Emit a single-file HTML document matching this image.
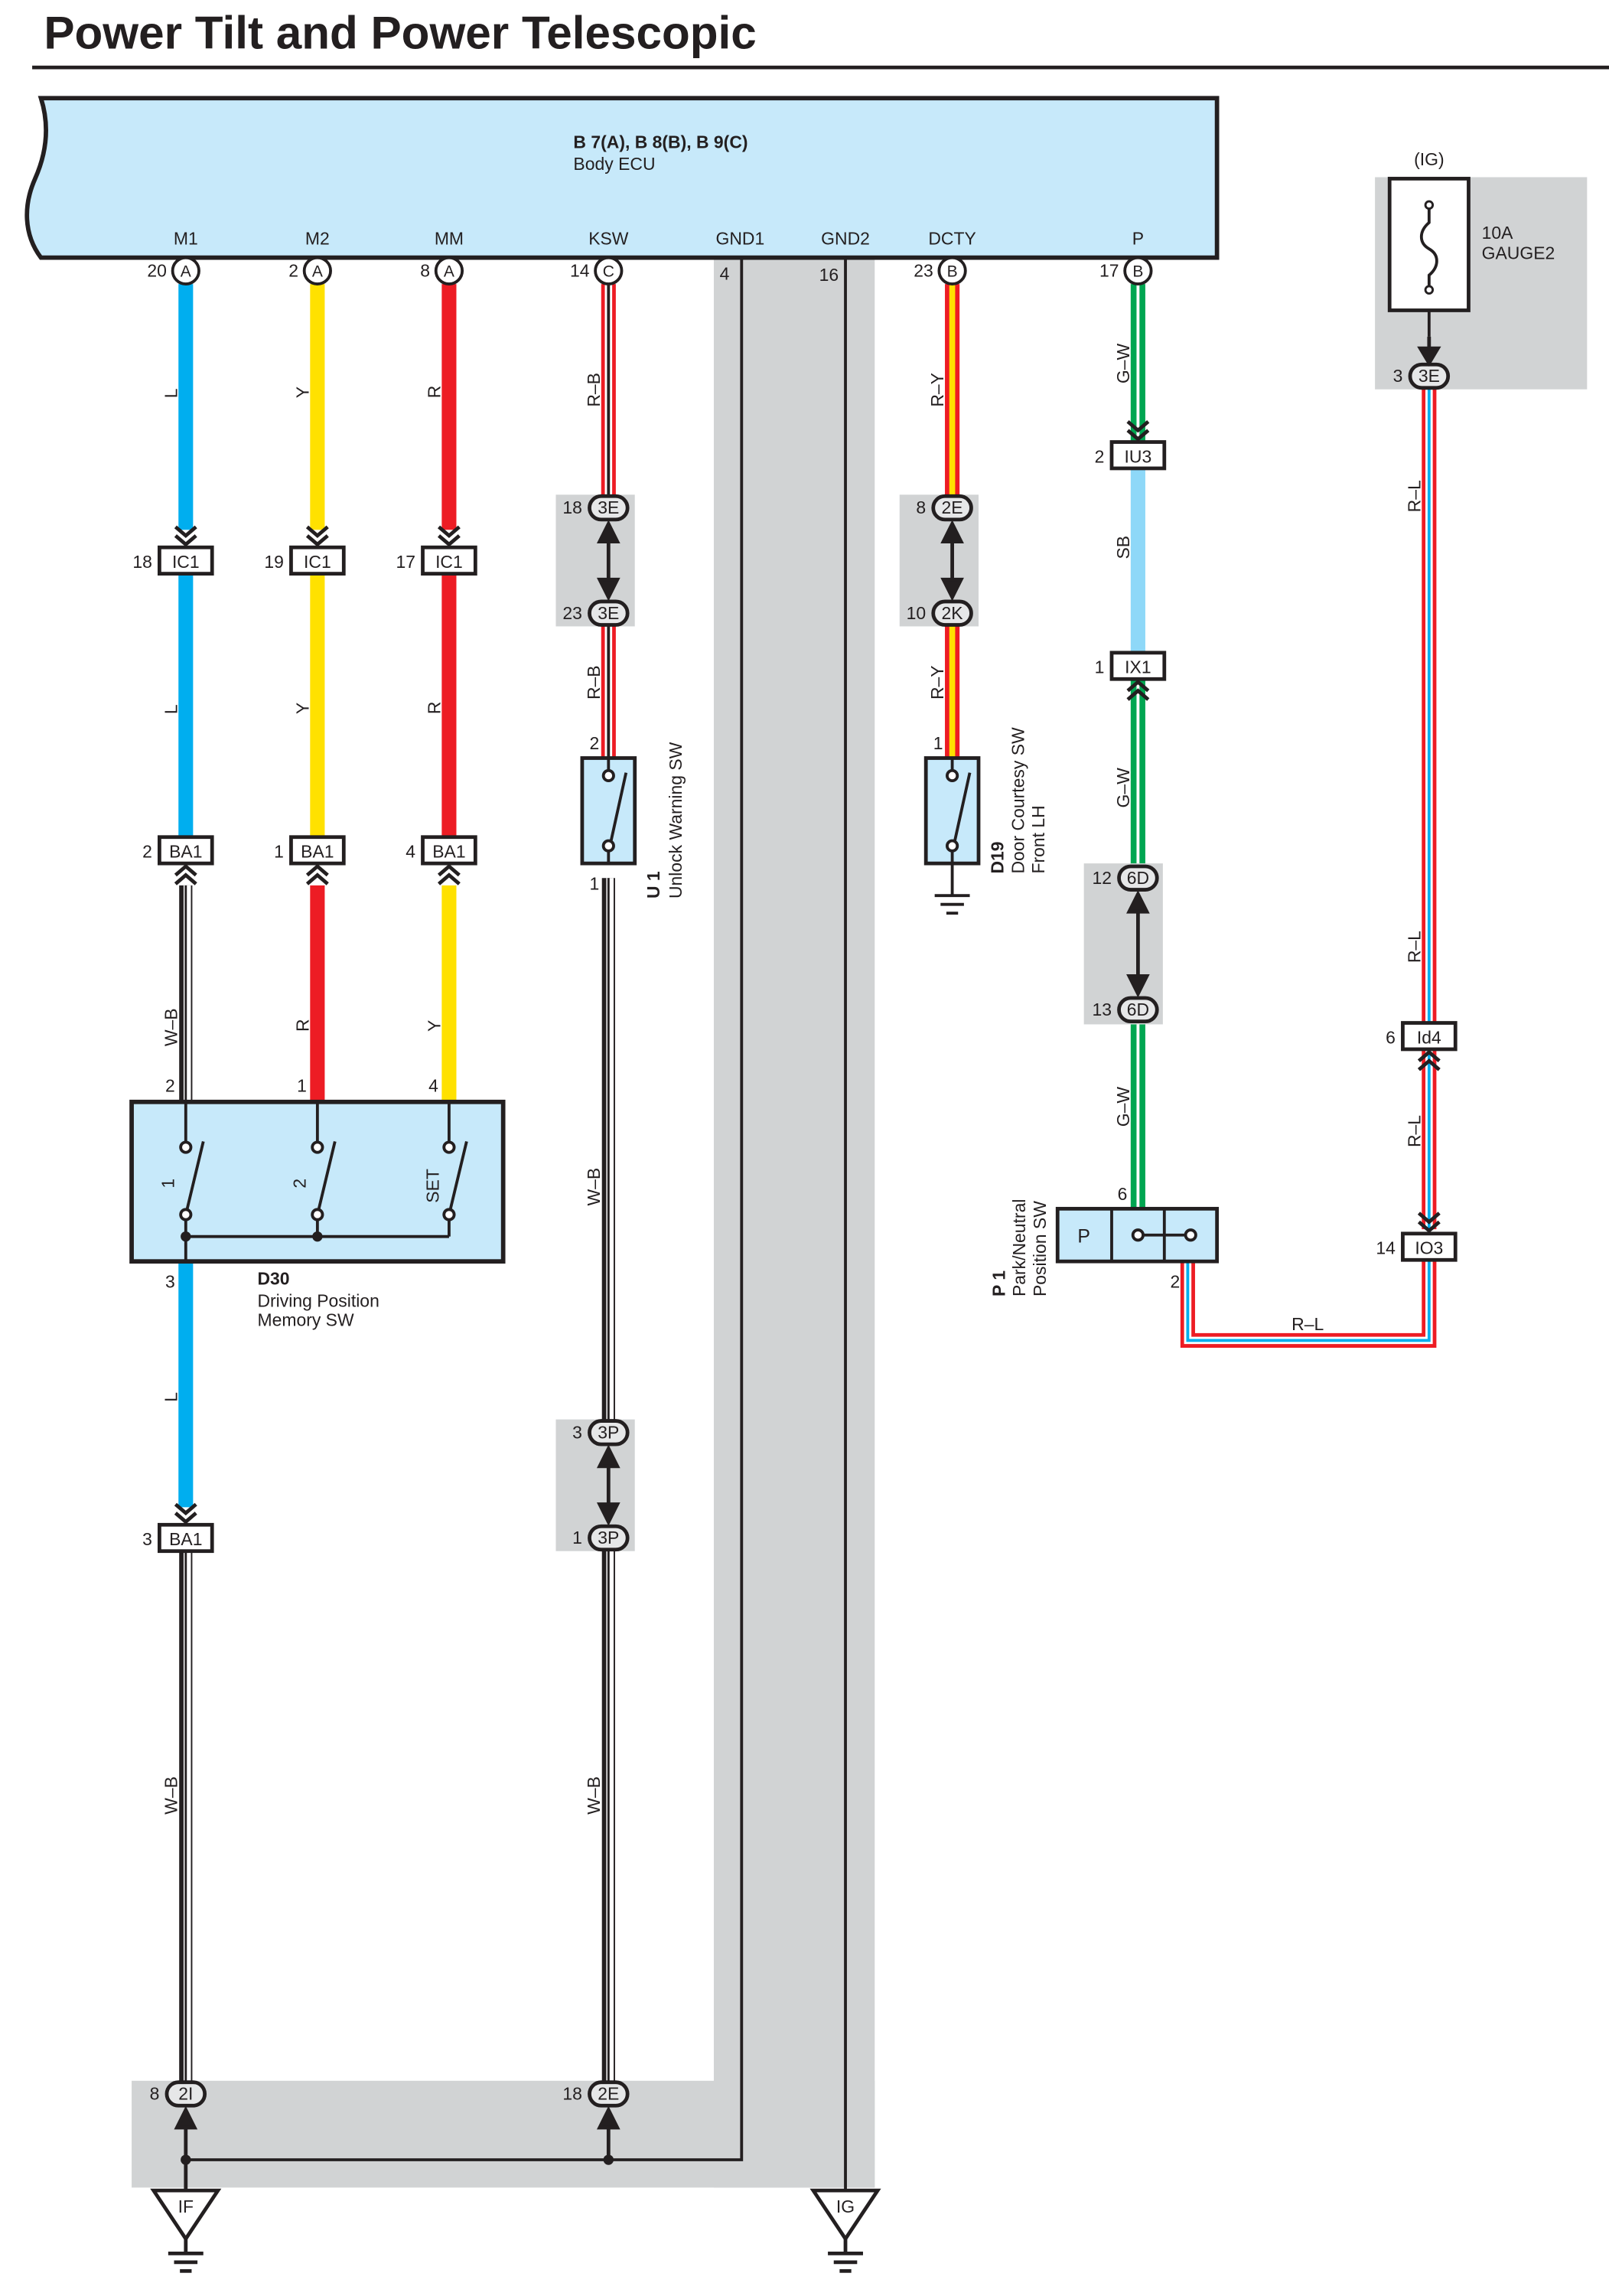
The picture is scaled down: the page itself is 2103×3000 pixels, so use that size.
<!DOCTYPE html>
<html><head><meta charset="utf-8"><style>
html,body{margin:0;padding:0;background:#fff}
svg{display:block}
text{font-family:"Liberation Sans",sans-serif;fill:#231f20}
</style></head><body>
<svg width="2103" height="3000" viewBox="0 0 1100 1569" xmlns="http://www.w3.org/2000/svg">
<defs>
<g id="chevD"><polyline points="-7,-12 0,-6 7,-12" fill="none" stroke="#231f20" stroke-width="2.5"/><polyline points="-7,-6 0,0 7,-6" fill="none" stroke="#231f20" stroke-width="2.5"/></g>
<g id="chevU"><polyline points="-7,12 0,6 7,12" fill="none" stroke="#231f20" stroke-width="2.5"/><polyline points="-7,6 0,0 7,6" fill="none" stroke="#231f20" stroke-width="2.5"/></g>
</defs>
<rect width="1100" height="1569" fill="#fff"/>
<text x="30" y="33" font-size="31.5" font-weight="bold">Power Tilt and Power Telescopic</text>
<line x1="22" y1="46" x2="1100" y2="46" stroke="#231f20" stroke-width="2.5"/>

<rect x="488" y="176" width="110" height="1319" fill="#d1d3d4"/>
<rect x="90" y="1422" width="508" height="73" fill="#d1d3d4"/>
<rect x="380" y="338" width="54" height="90" fill="#d1d3d4"/>
<rect x="615" y="338" width="54" height="90" fill="#d1d3d4"/>
<rect x="741" y="590" width="54" height="110" fill="#d1d3d4"/>
<rect x="380" y="970" width="54" height="90" fill="#d1d3d4"/>
<rect x="940" y="121" width="145" height="145" fill="#d1d3d4"/>

<path d="M28,67 L832,67 L832,176 L28,176 C16,160 16,140 24,122 C32,104 34,86 28,67 Z" fill="#c7e9fa" stroke="#231f20" stroke-width="3"/>
<text x="392" y="101" font-size="12" font-weight="bold">B 7(A), B 8(B), B 9(C)</text>
<text x="392" y="116" font-size="12">Body ECU</text>
<g font-size="12" text-anchor="middle">
<text x="127" y="167">M1</text><text x="217" y="167">M2</text><text x="307" y="167">MM</text>
<text x="416" y="167">KSW</text><text x="506" y="167">GND1</text><text x="578" y="167">GND2</text>
<text x="651" y="167">DCTY</text><text x="778" y="167">P</text>
</g>

<polyline points="507,176 507,1476 127,1476" fill="none" stroke="#231f20" stroke-width="2"/>
<line x1="578" y1="176" x2="578" y2="1497" stroke="#231f20" stroke-width="2"/>
<text x="492" y="191" font-size="12">4</text><text x="560" y="192" font-size="12">16</text>

<g stroke-width="10">
<line x1="127" y1="194" x2="127" y2="362" stroke="#00aeef"/>
<line x1="127" y1="392" x2="127" y2="572" stroke="#00aeef"/>
<line x1="217" y1="194" x2="217" y2="362" stroke="#ffe100"/>
<line x1="217" y1="392" x2="217" y2="572" stroke="#ffe100"/>
<line x1="217" y1="605" x2="217" y2="752" stroke="#ed1c24"/>
<line x1="307" y1="194" x2="307" y2="362" stroke="#ed1c24"/>
<line x1="307" y1="392" x2="307" y2="572" stroke="#ed1c24"/>
<line x1="307" y1="605" x2="307" y2="752" stroke="#ffe100"/>
<line x1="127" y1="862" x2="127" y2="1030" stroke="#00aeef"/>
<line x1="778" y1="320" x2="778" y2="446" stroke="#8ed8f8"/>
</g>
<g>
<line x1="127" y1="605" x2="127" y2="752" stroke="#231f20" stroke-width="9"/><line x1="128" y1="605" x2="128" y2="752" stroke="#fff" stroke-width="5"/><line x1="127" y1="605" x2="127" y2="752" stroke="#231f20" stroke-width="1.5"/>
<line x1="127" y1="1060" x2="127" y2="1422" stroke="#231f20" stroke-width="9"/><line x1="128" y1="1060" x2="128" y2="1422" stroke="#fff" stroke-width="5"/><line x1="127" y1="1060" x2="127" y2="1422" stroke="#231f20" stroke-width="1.5"/>
<line x1="416" y1="600" x2="416" y2="970" stroke="#231f20" stroke-width="9"/><line x1="417" y1="600" x2="417" y2="970" stroke="#fff" stroke-width="5"/><line x1="416" y1="600" x2="416" y2="970" stroke="#231f20" stroke-width="1.5"/>
<line x1="416" y1="1060" x2="416" y2="1422" stroke="#231f20" stroke-width="9"/><line x1="417" y1="1060" x2="417" y2="1422" stroke="#fff" stroke-width="5"/><line x1="416" y1="1060" x2="416" y2="1422" stroke="#231f20" stroke-width="1.5"/>
</g>
<g>
<line x1="416" y1="194" x2="416" y2="338" stroke="#ed1c24" stroke-width="10"/><line x1="416" y1="194" x2="416" y2="338" stroke="#fff" stroke-width="5"/><line x1="416" y1="194" x2="416" y2="338" stroke="#231f20" stroke-width="2"/>
<line x1="416" y1="428" x2="416" y2="518" stroke="#ed1c24" stroke-width="10"/><line x1="416" y1="428" x2="416" y2="518" stroke="#fff" stroke-width="5"/><line x1="416" y1="428" x2="416" y2="518" stroke="#231f20" stroke-width="2"/>
<line x1="651" y1="194" x2="651" y2="338" stroke="#ed1c24" stroke-width="10"/><line x1="651" y1="194" x2="651" y2="338" stroke="#ffe100" stroke-width="4"/>
<line x1="651" y1="428" x2="651" y2="518" stroke="#ed1c24" stroke-width="10"/><line x1="651" y1="428" x2="651" y2="518" stroke="#ffe100" stroke-width="4"/>
<line x1="778" y1="194" x2="778" y2="302" stroke="#00a651" stroke-width="10"/><line x1="778" y1="194" x2="778" y2="302" stroke="#fff" stroke-width="2"/>
<line x1="778" y1="465" x2="778" y2="590" stroke="#00a651" stroke-width="10"/><line x1="778" y1="465" x2="778" y2="590" stroke="#fff" stroke-width="2"/>
<line x1="778" y1="700" x2="778" y2="826" stroke="#00a651" stroke-width="10"/><line x1="778" y1="700" x2="778" y2="826" stroke="#fff" stroke-width="2"/>
<polyline points="977,266 977,698" fill="none" stroke="#ed1c24" stroke-width="10"/><polyline points="977,266 977,698" fill="none" stroke="#fff" stroke-width="5"/><polyline points="977,266 977,698" fill="none" stroke="#00aeef" stroke-width="2"/>
<polyline points="977,718 977,840" fill="none" stroke="#ed1c24" stroke-width="10"/><polyline points="977,718 977,840" fill="none" stroke="#fff" stroke-width="5"/><polyline points="977,718 977,840" fill="none" stroke="#00aeef" stroke-width="2"/>
<polyline points="977,862 977,916 812,916 812,862" fill="none" stroke="#ed1c24" stroke-width="10"/><polyline points="977,862 977,916 812,916 812,862" fill="none" stroke="#fff" stroke-width="5"/><polyline points="977,862 977,916 812,916 812,862" fill="none" stroke="#00aeef" stroke-width="2"/>
</g>

<g font-size="12">
<text transform="translate(121,272) rotate(-90)">L</text>
<text transform="translate(211,272) rotate(-90)">Y</text>
<text transform="translate(301,272) rotate(-90)">R</text>
<text transform="translate(410,278) rotate(-90)">R–B</text>
<text transform="translate(645,278) rotate(-90)">R–Y</text>
<text transform="translate(772,262) rotate(-90)">G–W</text>
<text transform="translate(121,488) rotate(-90)">L</text>
<text transform="translate(211,488) rotate(-90)">Y</text>
<text transform="translate(301,488) rotate(-90)">R</text>
<text transform="translate(410,478) rotate(-90)">R–B</text>
<text transform="translate(645,478) rotate(-90)">R–Y</text>
<text transform="translate(772,382) rotate(-90)">SB</text>
<text transform="translate(772,552) rotate(-90)">G–W</text>
<text transform="translate(772,770) rotate(-90)">G–W</text>
<text transform="translate(121,715) rotate(-90)">W–B</text>
<text transform="translate(211,705) rotate(-90)">R</text>
<text transform="translate(301,705) rotate(-90)">Y</text>
<text transform="translate(410,824) rotate(-90)">W–B</text>
<text transform="translate(121,958) rotate(-90)">L</text>
<text transform="translate(121,1240) rotate(-90)">W–B</text>
<text transform="translate(410,1240) rotate(-90)">W–B</text>
<text transform="translate(971,350) rotate(-90)">R–L</text>
<text transform="translate(971,658) rotate(-90)">R–L</text>
<text transform="translate(971,784) rotate(-90)">R–L</text>
<text x="883" y="909">R–L</text>
</g>

<g font-size="11" text-anchor="middle">
<circle cx="127" cy="185" r="9" fill="#fff" stroke="#231f20" stroke-width="2"/><text x="127" y="189">A</text>
<circle cx="217" cy="185" r="9" fill="#fff" stroke="#231f20" stroke-width="2"/><text x="217" y="189">A</text>
<circle cx="307" cy="185" r="9" fill="#fff" stroke="#231f20" stroke-width="2"/><text x="307" y="189">A</text>
<circle cx="416" cy="185" r="9" fill="#fff" stroke="#231f20" stroke-width="2"/><text x="416" y="189">C</text>
<circle cx="651" cy="185" r="9" fill="#fff" stroke="#231f20" stroke-width="2"/><text x="651" y="189">B</text>
<circle cx="778" cy="185" r="9" fill="#fff" stroke="#231f20" stroke-width="2"/><text x="778" y="189">B</text>
</g>
<g font-size="12" text-anchor="end">
<text x="114" y="189">20</text><text x="204" y="189">2</text><text x="294" y="189">8</text>
<text x="403" y="189">14</text><text x="638" y="189">23</text><text x="765" y="189">17</text>
</g>

<g fill="#fff" stroke="#231f20" stroke-width="2.5">
<rect x="109" y="374" width="36" height="18"/><rect x="199" y="374" width="36" height="18"/><rect x="289" y="374" width="36" height="18"/>
<rect x="109" y="572" width="36" height="18"/><rect x="199" y="572" width="36" height="18"/><rect x="289" y="572" width="36" height="18"/>
<rect x="109" y="1042" width="36" height="18"/>
<rect x="760" y="302" width="36" height="18"/><rect x="760" y="446" width="36" height="18"/>
<rect x="959" y="699" width="36" height="18"/><rect x="959" y="843" width="36" height="18"/>
</g>
<g font-size="12" text-anchor="middle">
<text x="127" y="388">IC1</text><text x="217" y="388">IC1</text><text x="307" y="388">IC1</text>
<text x="127" y="586">BA1</text><text x="217" y="586">BA1</text><text x="307" y="586">BA1</text>
<text x="127" y="1056">BA1</text>
<text x="778" y="316">IU3</text><text x="778" y="460">IX1</text>
<text x="977" y="713">Id4</text><text x="977" y="857">IO3</text>
</g>
<g font-size="12" text-anchor="end">
<text x="104" y="388">18</text><text x="194" y="388">19</text><text x="284" y="388">17</text>
<text x="104" y="586">2</text><text x="194" y="586">1</text><text x="284" y="586">4</text>
<text x="104" y="1056">3</text>
<text x="755" y="316">2</text><text x="755" y="460">1</text>
<text x="954" y="713">6</text><text x="954" y="857">14</text>
</g>
<use href="#chevD" x="127" y="372"/><use href="#chevD" x="217" y="372"/><use href="#chevD" x="307" y="372"/>
<use href="#chevU" x="127" y="592"/><use href="#chevU" x="217" y="592"/><use href="#chevU" x="307" y="592"/>
<use href="#chevD" x="127" y="1040"/>
<use href="#chevD" x="778" y="300"/><use href="#chevU" x="778" y="466"/>
<use href="#chevU" x="977" y="719"/><use href="#chevD" x="977" y="841"/>

<g fill="#e6e7e8" stroke="#231f20" stroke-width="2.5">
<rect x="403" y="339" width="26" height="16" rx="8"/><rect x="403" y="411" width="26" height="16" rx="8"/>
<rect x="638" y="339" width="26" height="16" rx="8"/><rect x="638" y="411" width="26" height="16" rx="8"/>
<rect x="765" y="592" width="26" height="16" rx="8"/><rect x="765" y="682" width="26" height="16" rx="8"/>
<rect x="403" y="971" width="26" height="16" rx="8"/><rect x="403" y="1043" width="26" height="16" rx="8"/>
<rect x="114" y="1423" width="26" height="16" rx="8"/><rect x="403" y="1423" width="26" height="16" rx="8"/>
<rect x="964" y="249" width="26" height="16" rx="8"/>
</g>
<g font-size="12" text-anchor="middle">
<text x="416" y="351">3E</text><text x="416" y="423">3E</text>
<text x="651" y="351">2E</text><text x="651" y="423">2K</text>
<text x="778" y="604">6D</text><text x="778" y="694">6D</text>
<text x="416" y="983">3P</text><text x="416" y="1055">3P</text>
<text x="127" y="1435">2I</text><text x="416" y="1435">2E</text>
<text x="977" y="261">3E</text>
</g>
<g font-size="12" text-anchor="end">
<text x="398" y="351">18</text><text x="398" y="423">23</text>
<text x="633" y="351">8</text><text x="633" y="423">10</text>
<text x="760" y="604">12</text><text x="760" y="694">13</text>
<text x="398" y="983">3</text><text x="398" y="1055">1</text>
<text x="109" y="1435">8</text><text x="398" y="1435">18</text>
<text x="959" y="261">3</text>
</g>
<g stroke="#231f20" stroke-width="2.5" fill="#231f20">
<line x1="416" y1="358" x2="416" y2="408"/><polygon points="410,370 416,358 422,370"/><polygon points="410,396 416,408 422,396"/>
<line x1="651" y1="358" x2="651" y2="408"/><polygon points="645,370 651,358 657,370"/><polygon points="645,396 651,408 657,396"/>
<line x1="778" y1="611" x2="778" y2="679"/><polygon points="772,623 778,611 784,623"/><polygon points="772,667 778,679 784,667"/>
<line x1="416" y1="990" x2="416" y2="1040"/><polygon points="410,1002 416,990 422,1002"/><polygon points="410,1028 416,1040 422,1028"/>
<line x1="127" y1="1442" x2="127" y2="1476"/><polygon points="121,1454 127,1442 133,1454"/>
<line x1="416" y1="1442" x2="416" y2="1476"/><polygon points="410,1454 416,1442 422,1454"/>
<line x1="977" y1="230" x2="977" y2="248"/><polygon points="971,238 977,248 983,238"/>
<line x1="127" y1="1476" x2="127" y2="1497"/>
</g>
<circle cx="127" cy="1476" r="3.5" fill="#231f20"/><circle cx="416" cy="1476" r="3.5" fill="#231f20"/>

<g stroke="#231f20" stroke-width="2.5" fill="#fff">
<polygon points="105,1497 149,1497 127,1530"/>
<polygon points="556,1497 600,1497 578,1530"/>
<line x1="127" y1="1530" x2="127" y2="1540"/><line x1="578" y1="1530" x2="578" y2="1540"/>
<line x1="115" y1="1540" x2="139" y2="1540"/><line x1="119" y1="1546" x2="135" y2="1546"/><line x1="123" y1="1552" x2="131" y2="1552"/>
<line x1="566" y1="1540" x2="590" y2="1540"/><line x1="570" y1="1546" x2="586" y2="1546"/><line x1="574" y1="1552" x2="582" y2="1552"/>
</g>
<text x="127" y="1512" font-size="12" text-anchor="middle">IF</text>
<text x="578" y="1512" font-size="12" text-anchor="middle">IG</text>

<rect x="90" y="753" width="254" height="109" fill="#c7e9fa" stroke="#231f20" stroke-width="3"/>
<g stroke="#231f20" stroke-width="2" fill="#fff">
<line x1="127" y1="753" x2="127" y2="780"/><line x1="217" y1="753" x2="217" y2="780"/><line x1="307" y1="753" x2="307" y2="780"/>
<line x1="127" y1="833" x2="127" y2="862"/><line x1="217" y1="833" x2="217" y2="845"/><line x1="307" y1="833" x2="307" y2="845"/>
<line x1="127" y1="845" x2="307" y2="845"/>
<line x1="128" y1="826" x2="139" y2="780"/><line x1="218" y1="826" x2="229" y2="780"/><line x1="308" y1="826" x2="319" y2="780"/>
<circle cx="127" cy="784" r="3.5"/><circle cx="217" cy="784" r="3.5"/><circle cx="307" cy="784" r="3.5"/>
<circle cx="127" cy="830" r="3.5"/><circle cx="217" cy="830" r="3.5"/><circle cx="307" cy="830" r="3.5"/>
</g>
<circle cx="127" cy="845" r="3.5" fill="#231f20"/><circle cx="217" cy="845" r="3.5" fill="#231f20"/>
<g font-size="12">
<text transform="translate(119,812) rotate(-90)">1</text>
<text transform="translate(209,812) rotate(-90)">2</text>
<text transform="translate(300,822) rotate(-90)">SET</text>
<text x="113" y="746">2</text><text x="203" y="746">1</text><text x="293" y="746">4</text>
<text x="113" y="880">3</text>
<text x="176" y="878" font-weight="bold">D30</text>
<text x="176" y="893">Driving Position</text>
<text x="176" y="906">Memory SW</text>
</g>

<rect x="398" y="518" width="36" height="72" fill="#c7e9fa" stroke="#231f20" stroke-width="2.5"/>
<g stroke="#231f20" stroke-width="2" fill="#fff">
<line x1="416" y1="518" x2="416" y2="526"/><line x1="416" y1="582" x2="416" y2="590"/>
<line x1="417" y1="578" x2="428" y2="528"/>
<circle cx="416" cy="530" r="3.5"/><circle cx="416" cy="578" r="3.5"/>
</g>
<text x="403" y="512" font-size="12">2</text><text x="403" y="608" font-size="12">1</text>
<text transform="translate(451,614) rotate(-90)" font-size="12" font-weight="bold">U 1</text>
<text transform="translate(466,614) rotate(-90)" font-size="12">Unlock Warning SW</text>

<rect x="633" y="518" width="36" height="72" fill="#c7e9fa" stroke="#231f20" stroke-width="2.5"/>
<g stroke="#231f20" stroke-width="2" fill="#fff">
<line x1="651" y1="518" x2="651" y2="526"/><line x1="651" y1="582" x2="651" y2="612"/>
<line x1="652" y1="578" x2="663" y2="528"/>
<circle cx="651" cy="530" r="3.5"/><circle cx="651" cy="578" r="3.5"/>
<line x1="639" y1="612" x2="663" y2="612"/><line x1="643" y1="618" x2="659" y2="618"/><line x1="647" y1="624" x2="655" y2="624"/>
</g>
<text x="638" y="512" font-size="12">1</text>
<text transform="translate(686,597) rotate(-90)" font-size="12" font-weight="bold">D19</text>
<text transform="translate(700,597) rotate(-90)" font-size="12">Door Courtesy SW</text>
<text transform="translate(714,597) rotate(-90)" font-size="12">Front LH</text>

<rect x="723" y="826" width="109" height="36" fill="#c7e9fa" stroke="#231f20" stroke-width="2.5"/>
<line x1="760" y1="826" x2="760" y2="862" stroke="#231f20" stroke-width="2"/>
<line x1="796" y1="826" x2="796" y2="862" stroke="#231f20" stroke-width="2"/>
<text x="741" y="849" font-size="13" text-anchor="middle">P</text>
<g stroke="#231f20" stroke-width="2" fill="#fff">
<line x1="778" y1="844" x2="812" y2="844"/>
<circle cx="778" cy="844" r="3.5"/><circle cx="814" cy="844" r="3.5"/>
</g>
<text x="764" y="820" font-size="12">6</text><text x="800" y="880" font-size="12">2</text>
<text transform="translate(687,886) rotate(-90)" font-size="12" font-weight="bold">P 1</text>
<text transform="translate(701,886) rotate(-90)" font-size="12">Park/Neutral</text>
<text transform="translate(715,886) rotate(-90)" font-size="12">Position SW</text>

<rect x="950" y="122" width="54" height="90" fill="#fff" stroke="#231f20" stroke-width="2.5"/>
<line x1="977" y1="212" x2="977" y2="230" stroke="#231f20" stroke-width="2"/>
<path d="M977,140 L977,152 C970,158 970,166 977,170 C984,174 984,182 977,188 L977,198" fill="none" stroke="#231f20" stroke-width="2"/>
<circle cx="977" cy="140" r="2.5" fill="#fff" stroke="#231f20" stroke-width="1.5"/>
<circle cx="977" cy="198" r="2.5" fill="#fff" stroke="#231f20" stroke-width="1.5"/>
<text x="977" y="113" font-size="12" text-anchor="middle">(IG)</text>
<text x="1013" y="163" font-size="12">10A</text>
<text x="1013" y="177" font-size="12">GAUGE2</text>
</svg>
</body></html>
